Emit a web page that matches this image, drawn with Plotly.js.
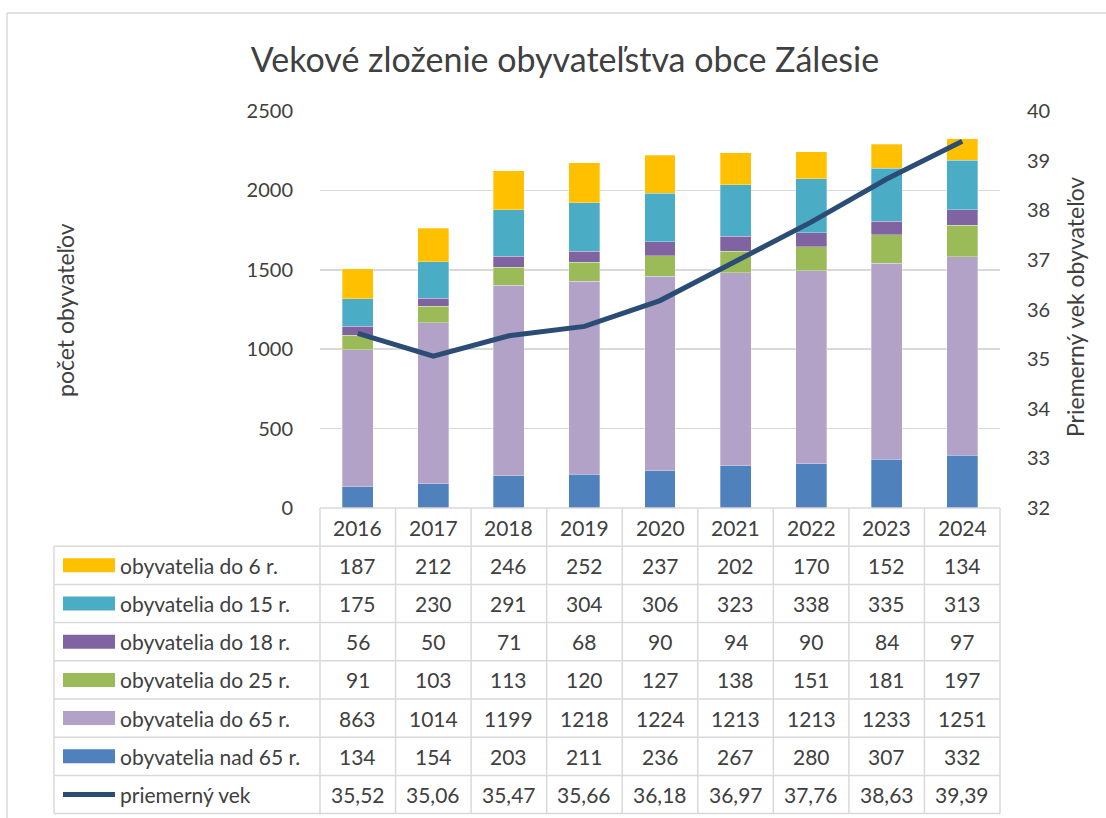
<!DOCTYPE html>
<html>
<head>
<meta charset="utf-8">
<script src="https://cdn.plot.ly/plotly-3.0.1.min.js"></script>
<style>html,body{margin:0;padding:0;background:#fff;}#chart{width:1106px;height:818px;}</style>
</head>
<body>
<div id="chart"></div>
<script>
const years = ['2016','2017','2018','2019','2020','2021','2022','2023','2024'];
const do6   = [187,212,246,252,237,202,170,152,134];
const do15  = [175,230,291,304,306,323,338,335,313];
const do18  = [56,50,71,68,90,94,90,84,97];
const do25  = [91,103,113,120,127,138,151,181,197];
const do65  = [863,1014,1199,1218,1224,1213,1213,1233,1251];
const nad65 = [134,154,203,211,236,267,280,307,332];
const vek   = [35.52,35.06,35.47,35.66,36.18,36.97,37.76,38.63,39.39];

const names = {
  do6:'obyvatelia do 6 r.', do15:'obyvatelia do 15 r.', do18:'obyvatelia do 18 r.',
  do25:'obyvatelia do 25 r.', do65:'obyvatelia do 65 r.', nad65:'obyvatelia nad 65 r.',
  vek:'priemerný vek'
};
const colors = {
  do6:'#FFC000', do15:'#4BACC6', do18:'#8064A2', do25:'#9BBB59',
  do65:'#B2A2C7', nad65:'#4F81BD', vek:'#2B4C74'
};

const W = 1106, H = 818;
const px = x => x / W;
const py = y => 1 - y / H;
const plotL = 320, plotR = 1000, plotT = 111, plotB = 508;
const colW = (plotR - plotL) / years.length;
const tableL = 54, rowTop = 508, rowH = 38.2;

function bar(key, arr) {
  return {type:'bar', x: years, y: arr, name: names[key],
    marker:{color: colors[key], line:{color:'rgba(255,255,255,0.6)', width:0.5}},
    hoverinfo:'y+name'};
}
const traces = [
  bar('nad65', nad65), bar('do65', do65), bar('do25', do25),
  bar('do18', do18), bar('do15', do15), bar('do6', do6),
  {type:'scatter', mode:'lines', x: years, y: vek, yaxis:'y2', name: names.vek,
   line:{color: colors.vek, width:5, shape:'linear'}}
];

const font = 'Lato, "Open Sans", sans-serif';
const grid = '#D9D9D9';
const shapes = [];
const annotations = [];

// outer frame
shapes.push({type:'line', xref:'paper', yref:'paper', x0:px(7), x1:1, y0:py(13), y1:py(13), line:{color:'#D9D9D9', width:1.5}});
shapes.push({type:'line', xref:'paper', yref:'paper', x0:px(7), x1:px(7), y0:py(13), y1:0, line:{color:'#D9D9D9', width:1.5}});

// table rows
const rows = [
  ['do6', do6], ['do15', do15], ['do18', do18], ['do25', do25],
  ['do65', do65], ['nad65', nad65], ['vek', vek]
];
const nRows = rows.length;
const tableB = rowTop + rowH * (nRows + 1);
const lc = {color: grid, width: 1.5};
shapes.push({type:'line', xref:'paper', yref:'paper', x0:px(plotL), x1:px(plotR), y0:py(rowTop), y1:py(rowTop), line:lc});
for (let r = 1; r <= nRows + 1; r++) {
  const y = rowTop + r * rowH;
  shapes.push({type:'line', xref:'paper', yref:'paper', x0:px(tableL), x1:px(plotR), y0:py(y), y1:py(y), line:lc});
}
shapes.push({type:'line', xref:'paper', yref:'paper', x0:px(tableL), x1:px(tableL), y0:py(rowTop + rowH), y1:py(tableB), line:lc});
for (let c = 0; c <= years.length; c++) {
  const x = plotL + c * colW;
  shapes.push({type:'line', xref:'paper', yref:'paper', x0:px(x), x1:px(x), y0:py(rowTop), y1:py(tableB), line:lc});
}
const tFont = {family: font, size: 21, color: '#404040'};
years.forEach((yr, c) => {
  annotations.push({xref:'paper', yref:'paper', x:px(plotL + (c + 0.5) * colW), y:py(rowTop + rowH / 2),
    text: yr, showarrow:false, xanchor:'center', yanchor:'middle', font:tFont});
});
rows.forEach(([key, arr], r) => {
  const yc = rowTop + (r + 1.5) * rowH;
  if (key === 'vek') {
    shapes.push({type:'line', xref:'paper', yref:'paper', x0:px(63), x1:px(115), y0:py(yc), y1:py(yc), line:{color: colors.vek, width:5}});
  } else {
    shapes.push({type:'rect', xref:'paper', yref:'paper', x0:px(63), x1:px(115), y0:py(yc - 7), y1:py(yc + 7), fillcolor: colors[key], line:{width:0}});
  }
  annotations.push({xref:'paper', yref:'paper', x:px(118), y:py(yc), text: names[key], showarrow:false,
    xanchor:'left', yanchor:'middle', font:tFont});
  arr.forEach((v, c) => {
    const txt = key === 'vek' ? v.toFixed(2).replace('.', ',') : String(v);
    annotations.push({xref:'paper', yref:'paper', x:px(plotL + (c + 0.5) * colW), y:py(yc), text: txt,
      showarrow:false, xanchor:'center', yanchor:'middle', font:tFont});
  });
});

// axis titles
annotations.push({xref:'paper', yref:'paper', x:px(65), y:py(310), text:'počet obyvateľov', textangle:-90,
  showarrow:false, xanchor:'center', yanchor:'middle', font:{family:font, size:23, color:'#404040'}});
annotations.push({xref:'paper', yref:'paper', x:px(1075), y:py(307), text:'Priemerný vek obyvateľov', textangle:-90,
  showarrow:false, xanchor:'center', yanchor:'middle', font:{family:font, size:23, color:'#404040'}});

const layout = {
  width: W, height: H,
  margin: {l:0, r:0, t:0, b:0},
  paper_bgcolor:'#fff', plot_bgcolor:'#fff',
  barmode:'stack', bargap:0.59,
  showlegend:false,
  title:{text:'Vekové zloženie obyvateľstva obce Zálesie', x:px(565), xanchor:'center', y:py(60), yanchor:'middle',
    font:{family:font, size:34, color:'#404040'}},
  xaxis:{domain:[px(plotL), px(plotR)], type:'category', range:[-0.5, 8.5], showticklabels:false,
    showgrid:false, zeroline:false, showline:false, fixedrange:true},
  yaxis:{domain:[py(plotB), py(plotT)], range:[0, 2500], dtick:500, showgrid:true, gridcolor:grid, gridwidth:1.5,
    zeroline:false, showline:false, ticks:'outside', ticklen:22, tickcolor:'rgba(0,0,0,0)',
    tickfont:{family:font, size:20, color:'#404040'}},
  yaxis2:{overlaying:'y', side:'right', range:[32, 40], dtick:1, showgrid:false, zeroline:false, showline:false,
    ticks:'outside', ticklen:22, tickcolor:'rgba(0,0,0,0)', tickfont:{family:font, size:20, color:'#404040'}},
  shapes: shapes,
  annotations: annotations
};
Plotly.newPlot('chart', traces, layout, {displayModeBar:false, staticPlot:true});
</script>
</body>
</html>
